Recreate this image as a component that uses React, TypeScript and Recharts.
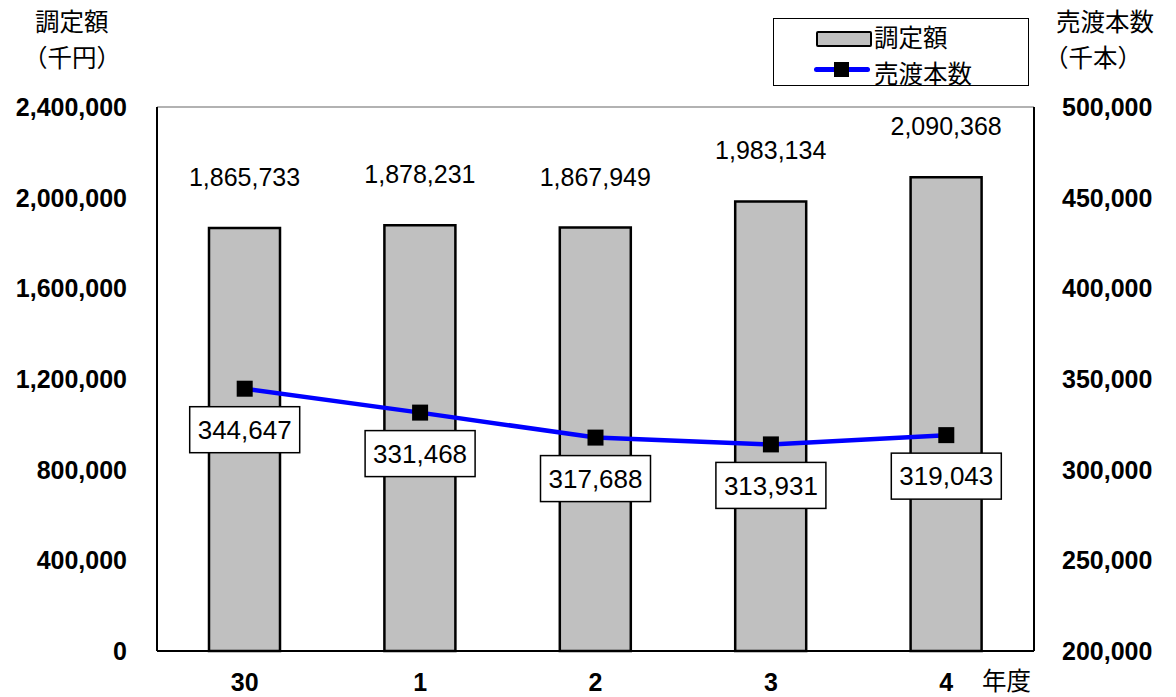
import React from "react"
import {
  ComposedChart,
  Bar,
  Line,
  XAxis,
  YAxis,
  CartesianGrid,
  Legend,
  LabelList,
} from "recharts"

const years = ["30", "1", "2", "3", "4"]
const amounts = [1865733, 1878231, 1867949, 1983134, 2090368]
const counts = [344647, 331468, 317688, 313931, 319043]
const leftTicks = [0, 400000, 800000, 1200000, 1600000, 2000000, 2400000]
const rightTicks = [200000, 250000, 300000, 350000, 400000, 450000, 500000]

const data = years.map((y, i) => ({ year: y, amount: amounts[i], count: counts[i] }))

const fmt = (v: number) => Number(v).toLocaleString("en-US")
const JP = "'Noto Sans CJK JP', sans-serif"
const NUM = "'Liberation Sans', Arial, sans-serif"

const tickStyle = { fontSize: 25, fontWeight: 700, fill: "#000", fontFamily: NUM }

function BarLabel(props: any) {
  const { x, y, width, value } = props
  return (
    <text x={x + width / 2} y={y - 42} textAnchor="middle" fontSize={25} fontFamily={NUM} fill="#000">
      {fmt(value)}
    </text>
  )
}

function LineLabel(props: any) {
  const { x, y, value } = props
  const w = 110
  const h = 46
  return (
    <g>
      <rect x={x - w / 2} y={y + 18} width={w} height={h} fill="#fff" stroke="#000" strokeWidth={1.5} />
      <text x={x} y={y + 41} dy="0.36em" textAnchor="middle" fontSize={26} fontFamily={NUM} fill="#000">
        {fmt(value)}
      </text>
    </g>
  )
}

function SquareDot(props: any) {
  const { cx, cy } = props
  if (cx == null || cy == null) return null
  return <rect x={cx - 8} y={cy - 8} width={16} height={16} fill="#000" />
}

// legend: bar entry on top, line entry below
function LegendBox(props: any) {
  const items = props.payload || []
  const barName = items.find((p: any) => p.dataKey === "amount")?.value ?? "調定額"
  const lineName = items.find((p: any) => p.dataKey === "count")?.value ?? "売渡本数"
  return (
    <div
      style={{
        width: 256,
        height: 68,
        border: "1.5px solid #000",
        background: "#fff",
        fontFamily: JP,
        fontSize: 24.5,
        color: "#000",
        boxSizing: "border-box",
        position: "relative",
      }}
    >
      <div style={{ position: "absolute", left: 42, top: 12, width: 52, height: 12, background: "#c0c0c0", border: "2.5px solid #000", borderRadius: 2 }} />
      <div style={{ position: "absolute", left: 40, top: 48, width: 56, height: 5, background: "#0000ff", borderRadius: 3 }} />
      <div style={{ position: "absolute", left: 60, top: 43, width: 15, height: 15, background: "#000" }} />
      <div style={{ position: "absolute", left: 100, top: 0, lineHeight: "35.5px", whiteSpace: "nowrap" }}>
        {barName}
        <br />
        {lineName}
      </div>
    </div>
  )
}

const textBase: React.CSSProperties = {
  position: "absolute",
  fontFamily: JP,
  fontSize: 24.5,
  color: "#000",
  lineHeight: "35.5px",
  whiteSpace: "nowrap",
}

export default function App() {
  return (
    <div style={{ position: "absolute", left: 0, top: 0, width: 1176, height: 697, background: "#fff" }}>
      <ComposedChart
        width={1176}
        height={697}
        data={data}
        margin={{ top: 107, right: 0, bottom: 6, left: 0 }}
      >
        <CartesianGrid vertical={false} stroke="#999" strokeWidth={1.5} />
        <XAxis
          dataKey="year"
          height={40}
          axisLine={{ stroke: "#000", strokeWidth: 2 }}
          tickLine={false}
          tickSize={0}
          tickMargin={22}
          tick={tickStyle}
        />
        <YAxis
          yAxisId="left"
          width={157}
          domain={[0, 2400000]}
          ticks={leftTicks}
          interval={0}
          tickFormatter={fmt}
          axisLine={{ stroke: "#000", strokeWidth: 2 }}
          tickLine={false}
          tickSize={0}
          tickMargin={30}
          tick={tickStyle}
        />
        <YAxis
          yAxisId="right"
          orientation="right"
          width={142}
          domain={[200000, 500000]}
          ticks={rightTicks}
          interval={0}
          tickFormatter={fmt}
          axisLine={{ stroke: "#000", strokeWidth: 2 }}
          tickLine={false}
          tickSize={0}
          tickMargin={28}
          tick={tickStyle}
        />
        <Legend
          layout="horizontal"
          verticalAlign="middle"
          align="center"
          wrapperStyle={{ position: "absolute", left: 773, top: 18, width: 256, height: 68 }}
          content={(p: any) => <LegendBox {...p} />}
        />
        <Bar
          yAxisId="left"
          dataKey="amount"
          name="調定額"
          barSize={71}
          fill="#c0c0c0"
          stroke="#000"
          strokeWidth={2.5}
          isAnimationActive={false}
        >
          <LabelList dataKey="amount" content={BarLabel} />
        </Bar>
        <Line
          yAxisId="right"
          dataKey="count"
          name="売渡本数"
          stroke="#0000ff"
          strokeWidth={4.5}
          dot={SquareDot}
          activeDot={false}
          isAnimationActive={false}
        >
          <LabelList dataKey="count" content={LineLabel} />
        </Line>
      </ComposedChart>
      <div style={{ ...textBase, left: 35, top: 3 }}>調定額</div>
      <div style={{ ...textBase, left: 23, top: 38.5 }}>（千円）</div>
      <div style={{ ...textBase, left: 1056, top: 3 }}>売渡本数</div>
      <div style={{ ...textBase, left: 1044, top: 38.5 }}>（千本）</div>
      <div style={{ ...textBase, left: 982, top: 662 }}>年度</div>
    </div>
  )
}
